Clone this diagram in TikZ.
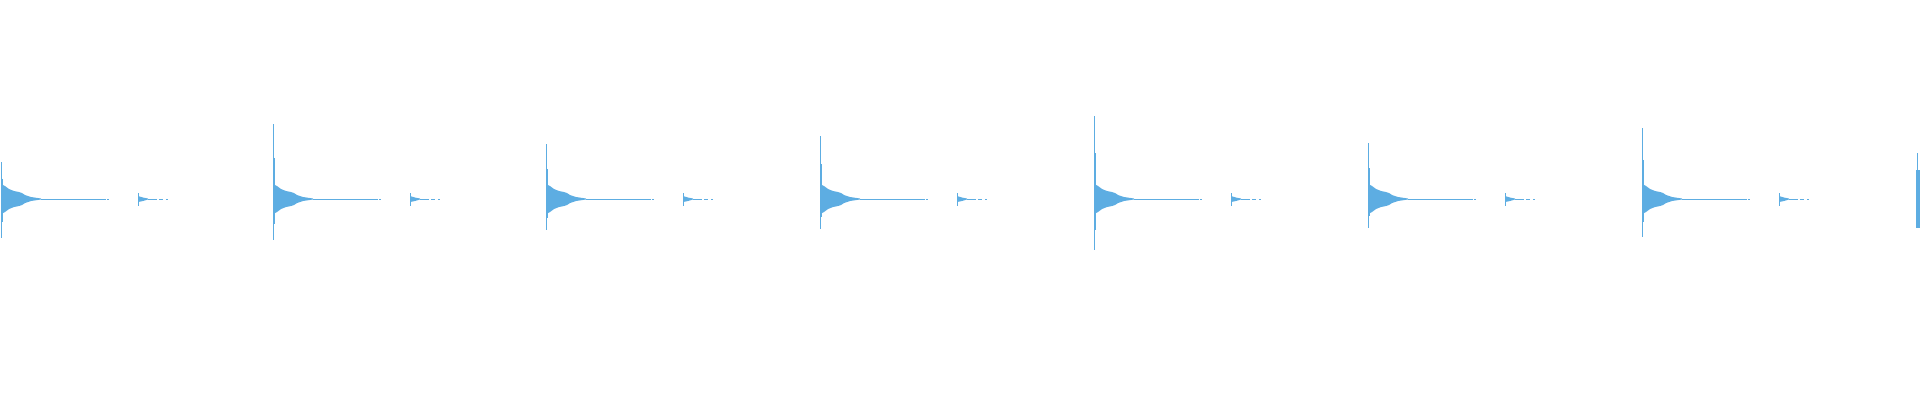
\documentclass[tikz,border=0pt]{standalone}
\definecolor{wave}{HTML}{5DADE2}
\begin{document}
\begin{tikzpicture}[x=1pt,y=-1pt,wv/.style={draw=wave,line width=1pt},wf/.style={fill=wave}]
\useasboundingbox (0,0) rectangle (1920,400);
\foreach \xo/\tp/\bt in {1/162/238,273/124/240,546/144/230,820/136/229,1094/116/250,1368/143/228,1642/128/237}{
  \draw[wv] (\xo,\tp) -- (\xo,\bt);
  \draw[wv,line width=1.6pt] (\xo+1,{199-(199-\tp)*0.55}) -- (\xo+1,{199+(\bt-199)*0.6});
  \fill[wf] (\xo,184) -- (\xo+4,186) -- (\xo+8,189) -- (\xo+13,191) -- (\xo+18,192) -- (\xo+21,193) -- (\xo+24,195) -- (\xo+30,197) -- (\xo+40,198.5)
    -- (\xo+40,199.5) -- (\xo+30,201) -- (\xo+24,203) -- (\xo+21,205) -- (\xo+18,206) -- (\xo+13,207) -- (\xo+8,209) -- (\xo+4,212) -- (\xo,214) -- cycle;
  \draw[wv] (\xo+40,199) -- (\xo+105,199);
  \draw[wv] (\xo+106,199) -- (\xo+108,199);
  \draw[wv] (\xo+137,193) -- (\xo+137,206);
  \fill[wf] (\xo+137,196) -- (\xo+142,197.5) -- (\xo+147,198.5) -- (\xo+147,199.5) -- (\xo+142,201) -- (\xo+137,202) -- cycle;
  \draw[wv] (\xo+147,199) -- (\xo+156,199);
  \draw[wv] (\xo+158,199) -- (\xo+162,199);
  \draw[wv] (\xo+165,199) -- (\xo+167,199);
}
\draw[wv] (1917.5,153) -- (1917.5,213);
\fill[wf] (1916,170) rectangle (1920,228);
\end{tikzpicture}
\end{document}
